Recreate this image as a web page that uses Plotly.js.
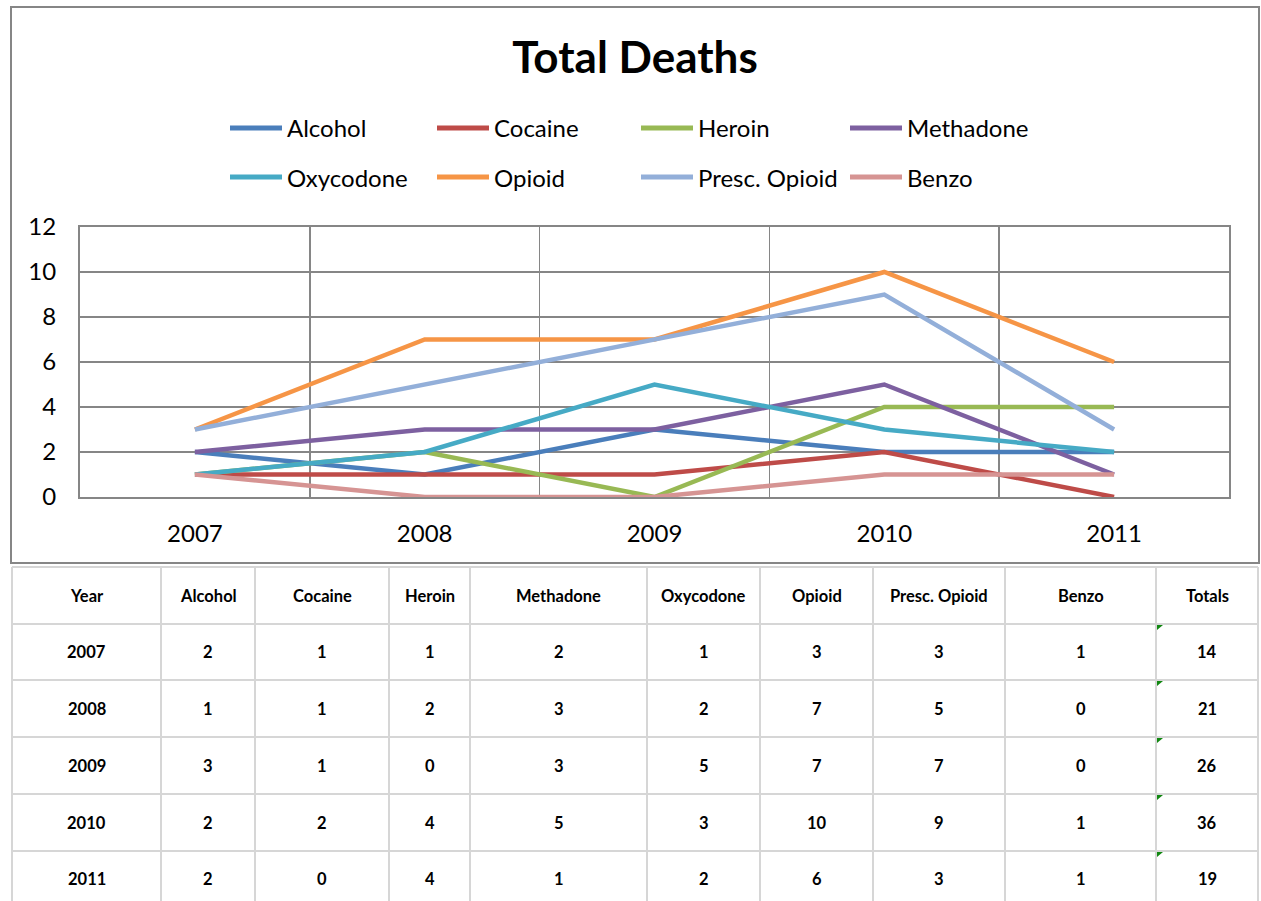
<!DOCTYPE html>
<html>
<head>
<meta charset="utf-8">
<script src="https://cdn.plot.ly/plotly-3.0.1.min.js"></script>
<style>
  html, body { margin: 0; padding: 0; background: #ffffff; }
  #chart { width: 1261px; height: 901px; }
</style>
</head>
<body>
<div id="chart"></div>
<script>
// ---- data ----
const years = ['2007', '2008', '2009', '2010', '2011'];
const seriesNames = ['Alcohol', 'Cocaine', 'Heroin', 'Methadone', 'Oxycodone', 'Opioid', 'Presc. Opioid', 'Benzo'];
const alcohol    = [2, 1, 3, 2, 2];
const cocaine    = [1, 1, 1, 2, 0];
const heroin     = [1, 2, 0, 4, 4];
const methadone  = [2, 3, 3, 5, 1];
const oxycodone  = [1, 2, 5, 3, 2];
const opioid     = [3, 7, 7, 10, 6];
const prescOpioid = [3, 5, 7, 9, 3];
const benzo      = [1, 0, 0, 1, 1];
const totals     = [14, 21, 26, 36, 19];
const yTicks     = [0, 2, 4, 6, 8, 10, 12];
const tableHeader = ['Year', 'Alcohol', 'Cocaine', 'Heroin', 'Methadone', 'Oxycodone', 'Opioid', 'Presc. Opioid', 'Benzo', 'Totals'];

const seriesValues = [alcohol, cocaine, heroin, methadone, oxycodone, opioid, prescOpioid, benzo];
const seriesColors = ['#4A7EBB', '#BE4B48', '#98B954', '#7D60A0', '#46AAC5', '#F69546', '#93AFD9', '#D69493'];

// ---- page geometry (pixels on a 1261 x 901 canvas) ----
const W = 1261, H = 901;
const px = v => v / W;
const py = v => 1 - v / H;
const FONT = 'Lato, "Open Sans", sans-serif';
const FRAME = '#868686';

const plotLeft = 80, plotRight = 1229, plotTop = 227, plotBottom = 497;

const traces = seriesNames.map((name, i) => ({
  type: 'scatter',
  mode: 'lines',
  name: name,
  x: years,
  y: seriesValues[i],
  line: { color: seriesColors[i], width: 4.5 },
  hoverinfo: 'x+y+name'
}));

const shapes = [];
const annotations = [];

// outer chart frame
shapes.push({
  type: 'rect', xref: 'paper', yref: 'paper',
  x0: px(11), x1: px(1259), y0: py(563), y1: py(7),
  line: { color: FRAME, width: 2 }, fillcolor: 'rgba(0,0,0,0)', layer: 'below'
});

// legend: two rows of four entries
const legendCols = [229, 436, 640, 849];
const legendRows = [128, 177];
seriesNames.forEach((name, i) => {
  const cx = legendCols[i % 4];
  const cy = legendRows[Math.floor(i / 4)];
  shapes.push({
    type: 'line', xref: 'paper', yref: 'paper',
    x0: px(cx + 1), x1: px(cx + 53), y0: py(cy), y1: py(cy),
    line: { color: seriesColors[i], width: 5 }
  });
  annotations.push({
    xref: 'paper', yref: 'paper', x: px(cx + 56), y: py(cy),
    xanchor: 'left', yanchor: 'middle', showarrow: false,
    text: name, font: { family: FONT, size: 24, color: '#000000' }
  });
});

// data table below the chart
const colEdges = [12, 161, 255, 389, 470, 647, 760, 873, 1005, 1156, 1258];
const rowEdges = [567, 624, 680, 737, 794, 851, 907];
const GRID = '#d6d6d6';
colEdges.forEach(x => shapes.push({
  type: 'line', xref: 'paper', yref: 'paper',
  x0: px(x), x1: px(x), y0: py(rowEdges[0]), y1: py(rowEdges[rowEdges.length - 1]),
  line: { color: GRID, width: 2 }
}));
rowEdges.forEach(y => shapes.push({
  type: 'line', xref: 'paper', yref: 'paper',
  x0: px(colEdges[0]), x1: px(colEdges[colEdges.length - 1]), y0: py(y), y1: py(y),
  line: { color: GRID, width: 2 }
}));

const tableRows = [tableHeader].concat(years.map((yr, r) =>
  [yr].concat(seriesValues.map(s => String(s[r]))).concat([String(totals[r])])
));
tableRows.forEach((row, r) => {
  const cy = (rowEdges[r] + rowEdges[r + 1]) / 2;
  row.forEach((cell, c) => {
    const cx = (colEdges[c] + colEdges[c + 1]) / 2;
    annotations.push({
      xref: 'paper', yref: 'paper', x: px(cx), y: py(cy),
      xanchor: 'center', yanchor: 'middle', showarrow: false,
      text: '<b>' + cell + '</b>', font: { family: FONT, size: 16.5, color: '#000000' }
    });
  });
  // small green marker in the corner of each totals cell
  if (r > 0) {
    const x0 = colEdges[colEdges.length - 2] + 1, y0 = rowEdges[r] + 1;
    shapes.push({
      type: 'path', xref: 'paper', yref: 'paper',
      path: `M${px(x0)},${py(y0)} L${px(x0 + 6)},${py(y0)} L${px(x0)},${py(y0 + 5)} Z`,
      fillcolor: '#118811', line: { width: 0 }
    });
  }
});

const layout = {
  width: W, height: H,
  margin: { l: 0, r: 0, t: 0, b: 0 },
  paper_bgcolor: '#ffffff',
  plot_bgcolor: '#ffffff',
  showlegend: false,
  font: { family: FONT, color: '#000000' },
  title: {
    text: '<b>Total Deaths</b>',
    x: px(635), xanchor: 'center',
    y: py(58), yanchor: 'middle',
    font: { family: FONT, size: 44, color: '#000000' }
  },
  xaxis: {
    type: 'category',
    domain: [px(plotLeft), px(plotRight)],
    range: [-0.5, years.length - 0.5],
    tickson: 'boundaries',
    ticks: '',
    showgrid: true, gridcolor: FRAME, gridwidth: 1.5,
    showline: true, mirror: true, linecolor: FRAME, linewidth: 2,
    tickfont: { family: FONT, size: 24, color: '#000000' },
    ticklabelstandoff: 14,
    fixedrange: true
  },
  yaxis: {
    domain: [py(plotBottom), py(plotTop)],
    range: [0, 12],
    tickvals: yTicks,
    ticktext: yTicks.map(String),
    ticks: '',
    showgrid: true, gridcolor: FRAME, gridwidth: 1.5,
    zeroline: false,
    showline: true, mirror: true, linecolor: FRAME, linewidth: 2,
    tickfont: { family: FONT, size: 24, color: '#000000' },
    ticklabelstandoff: 17,
    fixedrange: true
  },
  shapes: shapes,
  annotations: annotations
};

Plotly.newPlot('chart', traces, layout, { displayModeBar: false, staticPlot: true });
</script>
</body>
</html>
